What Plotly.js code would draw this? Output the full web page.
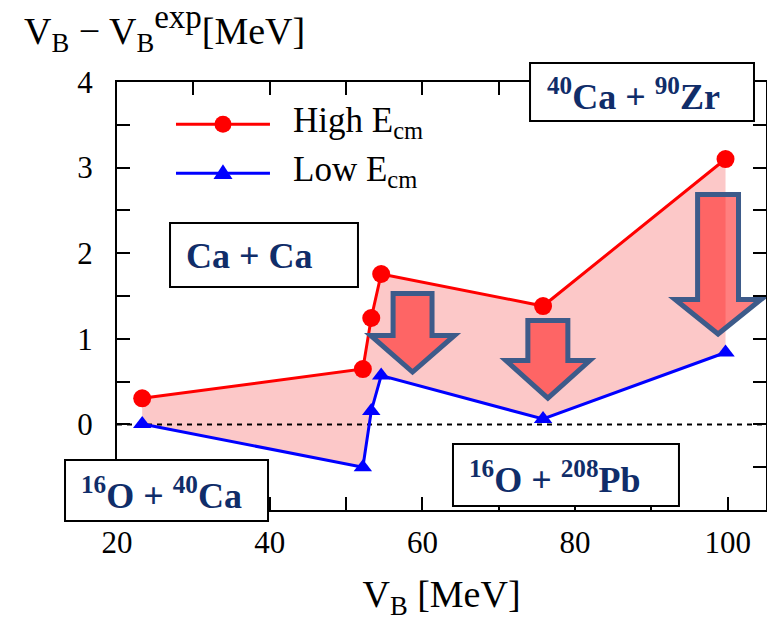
<!DOCTYPE html>
<html>
<head>
<meta charset="utf-8">
<script src="https://cdn.plot.ly/plotly-3.0.1.min.js"></script>
<style>
  html, body { margin: 0; padding: 0; background: #ffffff; }
  #chart { width: 767px; height: 621px; }
</style>
</head>
<body>
<div id="chart"></div>
<script>
// ---------------- data ----------------
const xVB      = [23.3, 52.2, 53.3, 54.6, 75.8, 99.7];      // V_B [MeV]
const highEcm  = [0.305, 0.647, 1.243, 1.757, 1.383, 3.10];  // V_B - V_B^exp, high E_cm
const lowEcm   = [0.005, -0.50, 0.157, 0.571, 0.063, 0.84]; // V_B - V_B^exp, low E_cm
const seriesNames = ['High E<sub>cm</sub>', 'Low E<sub>cm</sub>'];
const systemLabels = ['Ca + Ca', '<sup>40</sup>Ca + <sup>90</sup>Zr',
                      '<sup>16</sup>O + <sup>40</sup>Ca', '<sup>16</sup>O + <sup>208</sup>Pb'];
const xRange = [20, 105];
const yRange = [-1, 4];
const xTickVals = [20, 40, 60, 80, 100];
const xTickText = ['20', '40', '60', '80', '100'];
const xMinorVals = [30, 50, 70, 90];
const yTickVals = [0, 1, 2, 3, 4];
const yTickText = ['0', '1', '2', '3', '4'];
const yMinorVals = [-0.5, 0.5, 1.5, 2.5, 3.5];

// ---------------- styles ----------------
const SERIF = 'Liberation Serif, Times New Roman, serif';
const RED = '#ff0000', BLUE = '#0000ff', NAVY = '#102d69';
const ARROW_LINE = '#3d5b8a', ARROW_FILL = 'rgba(255,14,14,0.53)';
const PINK = 'rgb(252,200,200)';

// band between the two series (built from the data arrays)
const bandX = xVB.concat(xVB.slice().reverse());
const bandY = highEcm.concat(lowEcm.slice().reverse());

const traces = [
  { x: bandX, y: bandY, type: 'scatter', mode: 'lines', fill: 'toself',
    fillcolor: PINK, line: { width: 0 }, hoverinfo: 'skip', showlegend: false },
  { x: xRange, y: [0, 0], type: 'scatter', mode: 'lines',
    line: { color: '#000', width: 2, dash: '5px,5px' }, hoverinfo: 'skip', showlegend: false },
  { x: xVB, y: lowEcm, name: seriesNames[1], type: 'scatter', mode: 'lines+markers',
    line: { color: BLUE, width: 3 }, marker: { symbol: 'triangle-up', size: 16, color: BLUE },
    showlegend: false },
  { x: xVB, y: highEcm, name: seriesNames[0], type: 'scatter', mode: 'lines+markers',
    line: { color: RED, width: 3 }, marker: { symbol: 'circle', size: 18, color: RED },
    showlegend: false }
];

// decorative down-arrows: [centre x, shaft half-width, head half-width, top y, shoulder y, tip y]
const arrowGeom = [
  [58.71, 2.55, 5.49, 1.529, 1.039, 0.612],
  [76.43, 2.62, 5.49, 1.214, 0.746, 0.308],
  [98.72, 2.68, 5.62, 2.686, 1.459, 1.056]
];
function arrowPath(a) {
  const [c, s, h, top, sh, tip] = a;
  return 'M' + (c - s) + ',' + top + ' L' + (c + s) + ',' + top + ' L' + (c + s) + ',' + sh +
         ' L' + (c + h) + ',' + sh + ' L' + c + ',' + tip + ' L' + (c - h) + ',' + sh +
         ' L' + (c - s) + ',' + sh + ' Z';
}
const shapes = arrowGeom.map(a => ({
  type: 'path', xref: 'x', yref: 'y', path: arrowPath(a), layer: 'above',
  fillcolor: ARROW_FILL, line: { color: ARROW_LINE, width: 5 }
}));

// label boxes (paper coords): [x0, x1, y0, y1]
const boxGeom = [
  [0.0817, 0.3713, 0.5210, 0.6706],
  [0.6364, 0.9815, 0.9089, 1.0444],
  [-0.0801, 0.2327, -0.0257, 0.1168],
  [0.5177, 0.8659, 0.0093, 0.1542]
];
boxGeom.forEach(b => shapes.push({
  type: 'rect', xref: 'paper', yref: 'paper', x0: b[0], x1: b[1], y0: b[2], y1: b[3],
  layer: 'above', fillcolor: '#ffffff', line: { color: '#000', width: 2 }
}));
const boxText = [[0.2049, 0.5946], [0.7951, 0.9708], [0.0693, 0.0374], [0.6749, 0.0748]];

// custom legend
const legY = [0.9012, 0.7867];
const legX0 = 0.0909, legX1 = 0.2357, legMark = 0.1633, legText = 0.2681;
shapes.push({ type: 'line', xref: 'paper', yref: 'paper', x0: legX0, x1: legX1, y0: legY[0], y1: legY[0],
  layer: 'above', line: { color: RED, width: 3 } });
shapes.push({ type: 'circle', xref: 'paper', yref: 'paper', xsizemode: 'pixel', ysizemode: 'pixel',
  xanchor: legMark, yanchor: legY[0], x0: -8.5, x1: 8.5, y0: -8.5, y1: 8.5,
  layer: 'above', fillcolor: RED, line: { width: 0 } });
shapes.push({ type: 'line', xref: 'paper', yref: 'paper', x0: legX0, x1: legX1, y0: legY[1], y1: legY[1],
  layer: 'above', line: { color: BLUE, width: 3 } });
shapes.push({ type: 'path', xref: 'paper', yref: 'paper', xsizemode: 'pixel', ysizemode: 'pixel',
  xanchor: legMark, yanchor: legY[1], path: 'M-9.5,-5.7 L9.5,-5.7 L0,9 Z',
  layer: 'above', fillcolor: BLUE, line: { width: 0 } });

const annotations = [];
systemLabels.forEach((t, i) => annotations.push({
  text: '<b>' + t + '</b>', xref: 'paper', yref: 'paper', x: boxText[i][0], y: boxText[i][1],
  xanchor: 'center', yanchor: 'middle', showarrow: false,
  font: { family: SERIF, size: 36, color: NAVY }
}));
seriesNames.forEach((t, i) => annotations.push({
  text: t, xref: 'paper', yref: 'paper', x: legText, y: legY[i] + 0.004,
  xanchor: 'left', yanchor: 'middle', showarrow: false,
  font: { family: SERIF, size: 35, color: '#000' }
}));
// y-axis title drawn horizontally at top-left
annotations.push({
  text: 'V<sub>B</sub> − V<sub>B</sub><sup><span style="font-size:33px">exp</span></sup>[MeV]',
  xref: 'paper', yref: 'paper',
  x: -0.1468, y: 1.125, xanchor: 'left', yanchor: 'middle', showarrow: false,
  font: { family: SERIF, size: 38, color: '#000' }
});

const axisCommon = {
  showline: true, linecolor: '#000', linewidth: 2, mirror: 'ticks',
  ticks: 'inside', ticklen: 13, tickwidth: 2, tickcolor: '#000',
  showgrid: false, zeroline: false, tickmode: 'array',
  tickfont: { family: SERIF, size: 31, color: '#000' }
};

const layout = {
  width: 767, height: 621,
  margin: { l: 117, r: 1, t: 82, b: 111 },
  paper_bgcolor: '#fff', plot_bgcolor: '#fff',
  showlegend: false,
  xaxis: Object.assign({}, axisCommon, {
    range: xRange, tickvals: xTickVals, ticktext: xTickText, ticklabelstandoff: 4,
    minor: { tickmode: 'array', tickvals: xMinorVals, ticks: 'inside', ticklen: 13, tickwidth: 2, tickcolor: '#000' },
    title: { text: 'V<sub>B</sub> [MeV]', font: { family: SERIF, size: 38, color: '#000' }, standoff: 22 }
  }),
  yaxis: Object.assign({}, axisCommon, {
    range: yRange, tickvals: yTickVals, ticktext: yTickText, ticklabelstandoff: 16,
    minor: { tickmode: 'array', tickvals: yMinorVals, ticks: 'inside', ticklen: 13, tickwidth: 2, tickcolor: '#000' }
  }),
  shapes: shapes,
  annotations: annotations
};

Plotly.newPlot('chart', traces, layout, { displayModeBar: false, staticPlot: true });
</script>
</body>
</html>
